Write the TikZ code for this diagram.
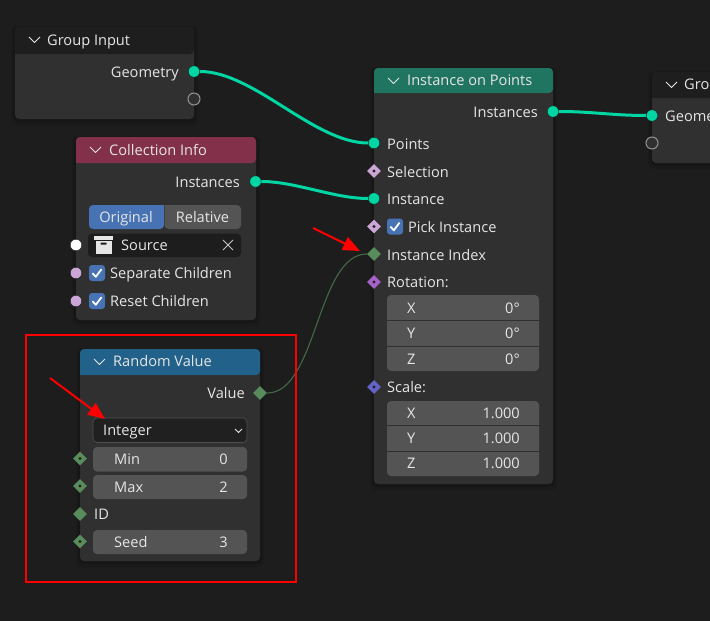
\documentclass[tikz,border=0pt]{standalone}
\usepackage{fontspec}
\setmainfont{Open Sans}
\usetikzlibrary{shapes.geometric,arrows.meta}
\definecolor{bgc}{HTML}{1D1D1D}
\definecolor{bodyc}{HTML}{303030}
\definecolor{hgroup}{HTML}{1E1E1E}
\definecolor{hcoll}{HTML}{83304A}
\definecolor{hrand}{HTML}{21618A}
\definecolor{hinst}{HTML}{1F7560}
\definecolor{teal}{HTML}{00D6A3}
\definecolor{boolc}{HTML}{CCA6D6}
\definecolor{intc}{HTML}{598C5C}
\definecolor{rotc}{HTML}{A663C7}
\definecolor{vecc}{HTML}{6363C7}
\definecolor{fieldc}{HTML}{545454}
\definecolor{darkf}{HTML}{1D1D1D}
\definecolor{bluec}{HTML}{4772B3}
\definecolor{txtc}{HTML}{E6E6E6}
\definecolor{redc}{HTML}{FF0000}
\tikzset{
  lbl/.style={font=\fontsize{14.6}{16}\selectfont,text=txtc,inner sep=0pt,anchor=mid west,yshift=-2.9pt},
  lblr/.style={lbl,anchor=mid east},
  lblc/.style={lbl,anchor=mid},
  sockround/.style={circle,fill=#1,draw=bgc,line width=0.4pt,minimum size=11.5pt,inner sep=0pt},
  sockempty/.style={circle,fill=bodyc,draw=gray!85,line width=1pt,minimum size=12pt,inner sep=0pt},
  sockdia/.style={diamond,fill=#1,minimum size=14pt,inner sep=0pt},
  sockdot/.style={sockdia=#1,path picture={\fill[bodyc!70!black] (path picture bounding box.center) circle (1.7pt);}},
  link/.style={teal,line width=3pt},
  thinlink/.style={intc!75!black,line width=1.1pt},
  redarrow/.style={redc,line width=2pt,-{Triangle[length=17pt,width=14pt]}},
  chev/.style={txtc,line width=1pt,line join=round},
  check/.style={white,line width=1.8pt,line join=round,line cap=round},
}
% x1 y1 x2 y2 yheader colour
\newcommand{\blnode}[6]{%
  \fill[black,opacity=.10,rounded corners=6pt] (#1-4,#2-1) rectangle (#3+4,#4+6);
  \fill[black,opacity=.12,rounded corners=5pt] (#1-2,#2) rectangle (#3+2,#4+3);
  \fill[bodyc,rounded corners=4pt] (#1,#2) rectangle (#3,#4);
  \fill[#6,rounded corners=4pt] (#1,#5) -- (#1,#2) -- (#3,#2) -- (#3,#5) [sharp corners] -- cycle;
  \draw[chev] (#1+14,#2+10) -- (#1+19.5,#2+15.5) -- (#1+25,#2+10);
}
\newcommand{\blfield}[5]{\fill[#5,rounded corners=4pt] (#1,#2) rectangle (#3,#4);}
\newcommand{\blcheck}[2]{%
  \fill[bluec,rounded corners=3pt] (#1,#2) rectangle (#1+16,#2+16);
  \draw[check] (#1+3.8,#2+8.5) -- (#1+6.8,#2+11.8) -- (#1+12.3,#2+4.5);
}
\begin{document}
\begin{tikzpicture}[x=1pt,y=-1pt]
\useasboundingbox (0,0) rectangle (710,621);
\clip (0,0) rectangle (710,621);
\fill[bgc] (0,0) rectangle (710,621);
% node bodies
\blnode{15}{27}{194}{119}{54}{hgroup}
\blnode{76}{137}{256}{320}{163}{hcoll}
\blnode{80}{349}{260}{561}{375}{hrand}
\blnode{374}{68}{553}{484}{93}{hinst}
\blnode{652}{72}{730}{163}{98}{hgroup}
% titles
\node[lbl] (tg) at (47,40) {Group Input};
\node[lbl] (tc) at (109,150) {Collection Info};
\node[lbl] (tr) at (113,361) {Random Value};
\node[lbl] (ti) at (407,80) {Instance on Points};
\node[lbl] (to) at (684,84) {Grou};
% Group input
\node[lblr] (lgeo) at (179,72) {Geometry};
% Collection info
\node[lblr] (lins) at (240,182) {Instances};
\fill[bluec,rounded corners=4pt] (164,205) -- (89,205) -- (89,229) -- (164,229) [sharp corners] -- cycle;
\fill[fieldc,rounded corners=4pt] (164.5,205) -- (241,205) -- (241,229) -- (164.5,229) [sharp corners] -- cycle;
\node[lblc] (lorig) at (126,217) {Original};
\node[lblc] (lrel) at (202.5,217) {Relative};
\blfield{88}{233.5}{241}{257}{darkf}
\fill[txtc] (94,235.5) rectangle (113,239.5);
\fill[txtc] (95.5,240.5) rectangle (111.5,254);
\fill[darkf,rounded corners=.5pt] (100.5,242.5) rectangle (106.5,244.5);
\node[lbl] (lsrc) at (121,245) {Source};
\draw[txtc!85!black,line width=1pt] (223,240) -- (233,250) (233,240) -- (223,250);
\blcheck{89}{265}
\blcheck{89}{293}
\node[lbl] (lsep) at (110,273) {Separate Children};
\node[lbl] (lres) at (110,301) {Reset Children};
% Random value
\node[lblr] (lval) at (245,393) {Value};
\blfield{93}{418}{247}{442.5}{darkf!85!bodyc}
\draw[gray!40!bodyc,rounded corners=4pt,line width=.6pt] (93,418) rectangle (247,442.5);
\node[lbl] (lint) at (103,430) {Integer};
\draw[txtc,line width=.9pt] (235,429) -- (238.5,432.5) -- (242,429);
\blfield{93}{447}{247}{471.5}{fieldc}
\blfield{93}{475}{247}{499}{fieldc}
\blfield{93}{530}{247}{554}{fieldc}
\node[lbl] (lmin) at (114,459) {Min};
\node[lblr] (vmin) at (228,459) {0};
\node[lbl] (lmax) at (114,487) {Max};
\node[lblr] (vmax) at (228,487) {2};
\node[lbl] (lid) at (94,514) {ID};
\node[lbl] (lseed) at (114,542) {Seed};
\node[lblr] (vseed) at (228,542) {3};
% Instance on points
\node[lblr] (lino) at (538,112) {Instances};
\node[lbl] (lpts) at (387,144) {Points};
\node[lbl] (lsel) at (387,172) {Selection};
\node[lbl] (linst) at (387,199) {Instance};
\blcheck{387}{218.5}
\node[lbl] (lpick) at (408,227) {Pick Instance};
\node[lbl] (lidx) at (387,255) {Instance Index};
\node[lbl] (lrot) at (387,282) {Rotation:};
\node[lbl] (lscl) at (387,387) {Scale:};
\blfield{387}{295}{539}{371}{fieldc}
\draw[bodyc,line width=1pt] (387,320.5) -- (539,320.5) (387,346) -- (539,346);
\blfield{387}{401}{539}{476}{fieldc}
\draw[bodyc,line width=1pt] (387,425.5) -- (539,425.5) (387,451) -- (539,451);
\node[lbl] (rx) at (407,308) {X};
\node[lbl] (ry) at (407,333) {Y};
\node[lbl] (rz) at (407,359) {Z};
\node[lblr] (rxv) at (520,308) {0°};
\node[lblr] (ryv) at (520,333) {0°};
\node[lblr] (rzv) at (520,359) {0°};
\node[lbl] (sx) at (407,413) {X};
\node[lbl] (sy) at (407,438) {Y};
\node[lbl] (sz) at (407,463) {Z};
\node[lblr] (sxv) at (520,413) {1.000};
\node[lblr] (syv) at (520,438) {1.000};
\node[lblr] (szv) at (520,463) {1.000};
% Group output
\node[lbl] (lgo) at (665,116) {Geome};
% sockets
\node[sockround=teal] (geo) at (194,71.5) {};
\node[sockempty] (geoe) at (194,99) {};
\node[sockround=teal] (insc) at (255.5,181.5) {};
\node[sockround=white] (ssrc) at (76,245) {};
\node[sockround=boolc] (ssep) at (76,273) {};
\node[sockround=boolc] (sres) at (76,301) {};
\node[sockdia=intc] (sval) at (260,393) {};
\node[sockdot=intc] (smin) at (80,458.5) {};
\node[sockdot=intc] (smax) at (80,486) {};
\node[sockdia=intc] (sid) at (80,514) {};
\node[sockdot=intc] (sseed) at (80,541.5) {};
\node[sockround=teal] (ino) at (553,111.5) {};
\node[sockround=teal] (pts) at (374,143) {};
\node[sockdot=boolc] (sel) at (374,171) {};
\node[sockround=teal] (inst) at (374,198.5) {};
\node[sockdot=boolc] (pick) at (374,226.5) {};
\node[sockdia=intc] (idx) at (374,254) {};
\node[sockdot=rotc] (rot) at (374,282) {};
\node[sockdot=vecc] (scl) at (374,387) {};
\node[sockround=teal] (gout) at (652,115.5) {};
\node[sockempty] (goute) at (652,143) {};
% connectors
\draw[link] (geo) .. controls +(60,0) and +(-60,0) .. (pts);
\draw[link] (insc) .. controls +(40,0) and +(-40,0) .. (inst);
\draw[link] (ino) .. controls +(40,0) and +(-40,0) .. (gout);
\draw[thinlink] (sval) .. controls +(57,0) and +(-57,0) .. (idx);
% annotations
\node[draw=redc,line width=1.6pt,minimum width=270pt,minimum height=247pt,inner sep=0pt,anchor=north west] (hl) at (25,334) {};
\coordinate (a1s) at (50,378);
\coordinate (a1e) at (105,419);
\coordinate (a2s) at (313,228);
\coordinate (a2e) at (360,251);
\draw[redarrow] (a1s) -- (a1e);
\draw[redarrow] (a2s) -- (a2e);
\end{tikzpicture}
\end{document}
